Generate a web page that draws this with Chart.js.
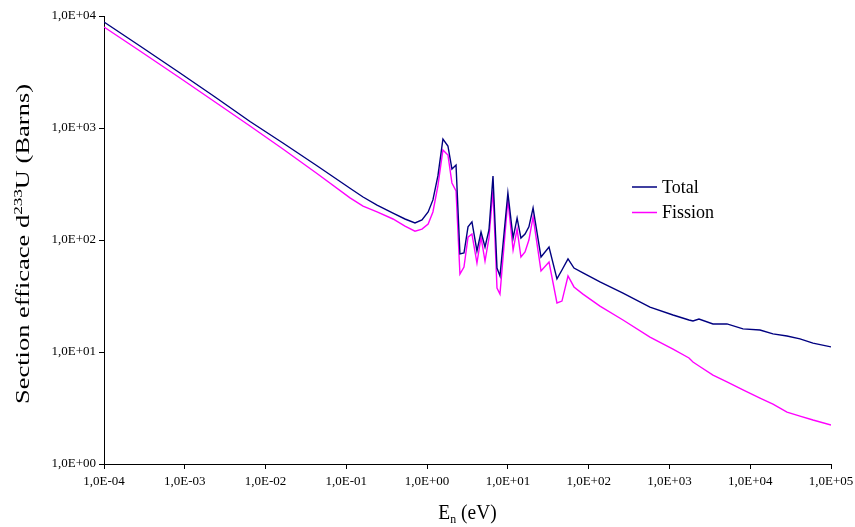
<!DOCTYPE html>
<html>
<head>
<meta charset="utf-8">
<script src="https://cdn.jsdelivr.net/npm/chart.js@4"></script>
<style>
  html, body { margin: 0; padding: 0; background: #ffffff; }
  #wrap { width: 855px; height: 527px; }
</style>
</head>
<body>
<div id="wrap"><canvas id="c" width="855" height="527"></canvas></div>
<script>
// ---- Data ----
const energies = [1.00e-4, 2.79e-4, 8.73e-4, 2.37e-3, 6.42e-3, 1.64e-2, 4.33e-2, 0.111, 0.161, 0.240,
  0.378, 0.532, 0.708, 0.864, 1.03, 1.18, 1.36, 1.57, 1.81, 2.03,
  2.28, 2.55, 2.86, 3.21, 3.59, 4.14, 4.65, 5.21, 5.83, 6.54,
  7.33, 7.98, 10.0, 11.6, 13.0, 14.5, 16.3, 18.2, 20.5, 25.7,
  32.3, 40.5, 46.7, 55.5, 65.8, 85.0, 138, 266, 574, 1107,
  1745, 1956, 2321, 3459, 5155, 8138, 13210, 19130, 28520, 41300,
  59830, 100000];

const totalXS = [8840, 5400, 3098, 1891, 1143, 735, 460, 290, 242, 205,
  174, 154, 142, 151, 178, 228, 373, 798, 691, 430,
  467, 75.0, 76.5, 131, 145, 79.8, 118, 86.6, 123, 373,
  56.2, 47.7, 263, 104, 157, 104, 113, 131, 193, 70.5,
  86.6, 44.9, 54.0, 67.7, 56.2, 50.8, 42.2, 33.6, 25.2, 21.4,
  19.3, 18.9, 19.7, 17.8, 17.8, 16.1, 15.7, 14.5, 13.9, 13.1,
  12.0, 11.1];

const fissionXS = [7976, 4870, 2795, 1707, 1042, 649, 392, 238, 201, 178,
  154, 133, 120, 125, 139, 178, 304, 636, 574, 323,
  274, 49.7, 57.4, 106, 113, 62.3, 106, 64.9, 104, 280,
  37.3, 32.9, 228, 81.4, 125, 70.5, 78.1, 100, 161, 52.9,
  63.6, 27.4, 28.5, 47.7, 38.1, 32.9, 25.7, 19.3, 13.6, 10.6,
  8.84, 8.14, 7.50, 6.23, 5.40, 4.58, 3.88, 3.43, 2.91, 2.68,
  2.47, 2.23];

const seriesLabels = ['Total', 'Fission'];
const xTickValues = [1e-4, 1e-3, 1e-2, 1e-1, 1e0, 1e1, 1e2, 1e3, 1e4, 1e5];
const yTickValues = [1, 10, 100, 1000, 10000];
const xTitleParts = [{ t: 'E' }, { t: 'n', sub: true }, { t: ' (eV)' }];
const yTitleParts = [{ t: 'Section efficace d' }, { t: '233', sup: true }, { t: 'U (Barns)' }];

// ---- Helpers ----
const SERIF = '"Liberation Serif", "Times New Roman", serif';
const colors = ['#000080', '#FF00FF'];

function fmtSci(v) {
  const e = Math.round(Math.log10(v));
  return '1,0E' + (e < 0 ? '-' : '+') + String(Math.abs(e)).padStart(2, '0');
}

// draws a text made of parts (normal / sub / sup), centred on (cx, cy);
// stretch = scale along the text direction, vstretch = scale across it
function drawRich(ctx, parts, cx, cy, size, stretch, vstretch) {
  const small = Math.round(size * 0.62);
  let w = 0;
  parts.forEach(p => {
    ctx.font = (p.sub || p.sup ? small : size) + 'px ' + SERIF;
    p._w = ctx.measureText(p.t).width;
    w += p._w;
  });
  ctx.save();
  ctx.translate(cx, cy);
  ctx.scale(stretch, vstretch);
  let x = -w / 2;
  const base = size * 0.33;
  ctx.textBaseline = 'alphabetic';
  ctx.textAlign = 'left';
  parts.forEach(p => {
    ctx.font = (p.sub || p.sup ? small : size) + 'px ' + SERIF;
    let y = base;
    if (p.sub) y = base + size * 0.22;
    if (p.sup) y = base - size * 0.38;
    ctx.fillText(p.t, x, y);
    x += p._w;
  });
  ctx.restore();
  return w;
}

function measureRich(ctx, parts, size) {
  const small = Math.round(size * 0.62);
  let w = 0;
  parts.forEach(p => {
    ctx.font = (p.sub || p.sup ? small : size) + 'px ' + SERIF;
    w += ctx.measureText(p.t).width;
  });
  return w;
}

const titlesPlugin = {
  id: 'richTitles',
  afterDraw(chart) {
    const ctx = chart.ctx;
    const a = chart.chartArea;
    ctx.save();
    ctx.fillStyle = '#000';
    drawRich(ctx, xTitleParts, (a.left + a.right) / 2, 512, 18, 1.08, 1.15);
    const yLen = 320;
    const w = measureRich(ctx, yTitleParts, 17);
    ctx.translate(23, 244);
    ctx.rotate(-Math.PI / 2);
    drawRich(ctx, yTitleParts, 0, 0, 17, yLen / w, 1.05);
    ctx.restore();
  }
};

const legendPlugin = {
  id: 'insideLegend',
  afterDraw(chart) {
    const ctx = chart.ctx;
    ctx.save();
    chart.data.datasets.forEach((ds, i) => {
      const y = 187 + i * 25.5;
      ctx.strokeStyle = ds.borderColor;
      ctx.lineWidth = 1.5;
      ctx.beginPath();
      ctx.moveTo(632, y);
      ctx.lineTo(657, y);
      ctx.stroke();
      ctx.fillStyle = '#000';
      ctx.font = '18px ' + SERIF;
      ctx.textBaseline = 'middle';
      ctx.textAlign = 'left';
      ctx.fillText(ds.label, 662, y + 1);
    });
    ctx.restore();
  }
};

const datasets = [totalXS, fissionXS].map((arr, i) => ({
  label: seriesLabels[i],
  data: energies.map((e, k) => ({ x: e, y: arr[k] })),
  borderColor: colors[i],
  backgroundColor: colors[i],
  borderWidth: 1.4,
  pointRadius: 0,
  tension: 0,
  fill: false
}));

new Chart(document.getElementById('c'), {
  type: 'line',
  data: { datasets },
  options: {
    responsive: false,
    animation: false,
    devicePixelRatio: 1,
    layout: { padding: { left: 0, top: 16, right: 24, bottom: 0 } },
    plugins: {
      legend: { display: false },
      tooltip: { enabled: false }
    },
    scales: {
      x: {
        type: 'logarithmic',
        min: 1e-4,
        max: 1e5,
        afterBuildTicks: s => { s.ticks = xTickValues.map(v => ({ value: v })); },
        afterFit: s => { s.height = 63; s.paddingLeft = 0; s.paddingRight = 0; },
        ticks: {
          autoSkip: false,
          maxRotation: 0,
          minRotation: 0,
          padding: 5,
          color: '#000',
          font: { family: SERIF, size: 13 },
          callback: v => fmtSci(v)
        },
        grid: { display: true, drawOnChartArea: false, drawTicks: true, tickLength: 5, color: '#000', lineWidth: 1 },
        border: { display: true, color: '#000', width: 1 },
        title: { display: false }
      },
      y: {
        type: 'logarithmic',
        min: 1,
        max: 1e4,
        afterBuildTicks: s => { s.ticks = yTickValues.map(v => ({ value: v })); },
        afterFit: s => { s.width = 104; s.paddingTop = 0; s.paddingBottom = 0; },
        ticks: {
          autoSkip: false,
          padding: 3,
          color: '#000',
          font: { family: SERIF, size: 13 },
          callback: v => fmtSci(v)
        },
        grid: { display: true, drawOnChartArea: false, drawTicks: true, tickLength: 5, color: '#000', lineWidth: 1 },
        border: { display: true, color: '#000', width: 1 },
        title: { display: false }
      }
    }
  },
  plugins: [titlesPlugin, legendPlugin]
});
</script>
</body>
</html>
